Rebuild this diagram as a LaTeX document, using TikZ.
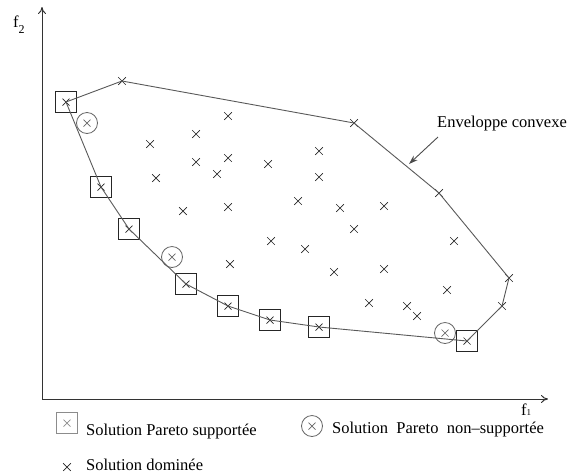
\documentclass[tikz,border=0pt]{standalone}
\usepackage{fontspec}
\setmainfont{Liberation Serif}
\usetikzlibrary{shapes.misc, arrows.meta}

\newcommand{\xmark}{\draw[line width=0.7pt] (path picture bounding box.center) +(-3.5pt,-3.5pt) -- +(3.5pt,3.5pt) +(-3.5pt,3.5pt) -- +(3.5pt,-3.5pt);}
\newcommand{\lowidx}[3]{\raisebox{#1}{\fontsize{#2}{#2}\selectfont #3}}

\begin{document}
\begin{tikzpicture}[x=1pt, y=-1pt,
	dom/.style={cross out, draw=black!85, line width=0.7pt, minimum size=7pt, inner sep=0pt},
	sup/.style={rectangle, draw=black!85, line width=0.9pt, minimum size=21pt, inner sep=0pt, path picture={\xmark}},
	nonsup/.style={circle, draw=black!60, line width=0.8pt, minimum size=21pt, inner sep=0pt, path picture={\xmark}},
	hull/.style={draw=black!65, line width=0.9pt},
	axis/.style={draw=black!80, line width=1pt, -{To[length=7pt, width=8pt]}},
	txt/.style={font=\fontsize{16.5}{19}\selectfont, inner sep=0pt, anchor=base west}]
	\useasboundingbox (0, 0) rectangle (568, 475);

	\coordinate (origin) at (42, 399);
	\coordinate (f1-end) at (548, 399);
	\coordinate (f2-end) at (42, 7);
	\draw[axis] (origin) -- (f1-end);
	\draw[axis] (origin) -- (f2-end);
	\node[txt] (f-2) at (13, 27) {f\lowidx{-6pt}{12}{2}};
	\node[txt] (f-1) at (521, 415) {f\lowidx{0pt}{9}{1}};

	\node[dom] (hull-1) at (122, 81) {};
	\node[dom] (hull-2) at (354, 123) {};
	\node[dom] (hull-3) at (439, 193) {};
	\node[dom] (hull-4) at (509, 278) {};
	\node[dom] (hull-5) at (502, 306) {};

	\node[sup] (sup-1) at (66, 102) {};
	\node[sup] (sup-2) at (101, 187) {};
	\node[sup] (sup-3) at (129, 229) {};
	\node[sup] (sup-4) at (186, 284) {};
	\node[sup] (sup-5) at (228, 306) {};
	\node[sup] (sup-6) at (270, 320) {};
	\node[sup] (sup-7) at (319, 327) {};
	\node[sup] (sup-8) at (467, 341) {};

	\node[nonsup] (nonsup-1) at (87, 123) {};
	\node[nonsup] (nonsup-2) at (172, 257) {};
	\node[nonsup] (nonsup-3) at (445, 333) {};

	\draw[hull] (sup-1.center) -- (hull-1.center) -- (hull-2.center) -- (hull-3.center) -- (hull-4.center) -- (hull-5.center) -- (sup-8.center);
	\draw[hull] (sup-1.center) -- (sup-2.center) -- (sup-3.center) -- (sup-4.center) -- (sup-5.center) -- (sup-6.center) -- (sup-7.center) -- (sup-8.center);

	\node[dom] (dom-1) at (228, 116) {};
	\node[dom] (dom-2) at (196, 134) {};
	\node[dom] (dom-3) at (150, 144) {};
	\node[dom] (dom-4) at (196, 162) {};
	\node[dom] (dom-5) at (228, 158) {};
	\node[dom] (dom-6) at (268, 164) {};
	\node[dom] (dom-7) at (217, 174) {};
	\node[dom] (dom-8) at (156, 178) {};
	\node[dom] (dom-9) at (183, 211) {};
	\node[dom] (dom-10) at (228, 207) {};
	\node[dom] (dom-11) at (271, 241) {};
	\node[dom] (dom-12) at (230, 264) {};
	\node[dom] (dom-13) at (319, 151) {};
	\node[dom] (dom-14) at (319, 177) {};
	\node[dom] (dom-15) at (298, 201) {};
	\node[dom] (dom-16) at (340, 208) {};
	\node[dom] (dom-17) at (384, 206) {};
	\node[dom] (dom-18) at (354, 229) {};
	\node[dom] (dom-19) at (454, 241) {};
	\node[dom] (dom-20) at (305, 249) {};
	\node[dom] (dom-21) at (334, 272) {};
	\node[dom] (dom-22) at (384, 269) {};
	\node[dom] (dom-23) at (447, 290) {};
	\node[dom] (dom-24) at (369, 303) {};
	\node[dom] (dom-25) at (407, 306) {};
	\node[dom] (dom-26) at (417, 316) {};

	\node[txt] (envelope) at (437, 127) {Enveloppe convexe};
	\coordinate (envelope-tip) at (409, 164);
	\draw[black!70, line width=0.9pt, -{Stealth[length=9pt, width=6pt]}] ([shift={(1, 10)}]envelope.base west) -- (envelope-tip);

	\node[sup, draw=black!45] (legend-sup) at (67, 423) {};
	\node[txt] (legend-sup-text) at (86, 435) {Solution Pareto supportée};
	\node[nonsup] (legend-nonsup) at (312, 426) {};
	\node[txt] (legend-nonsup-text) at (332, 433) {Solution\hspace{0.5em}Pareto\hspace{0.5em}non–supportée};
	\node[dom] (legend-dom) at (67, 467) {};
	\node[txt] (legend-dom-text) at (86, 470) {Solution dominée};
\end{tikzpicture}
\end{document}
